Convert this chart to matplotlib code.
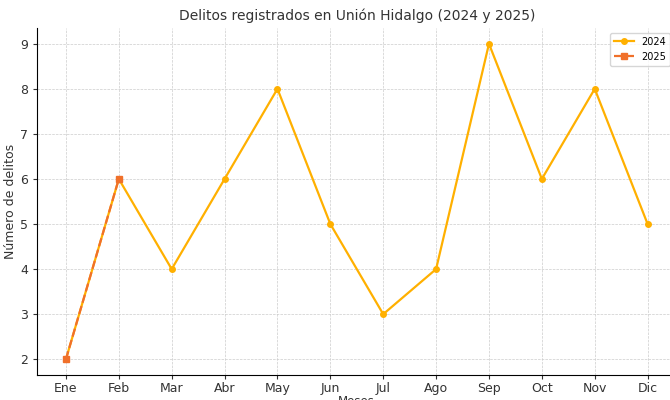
import matplotlib.pyplot as plt

# -----------------
# Data
# -----------------
meses = ['Ene', 'Feb', 'Mar', 'Abr', 'May', 'Jun', 'Jul', 'Ago', 'Sep', 'Oct', 'Nov', 'Dic']
delitos_2024 = [2, 6, 4, 6, 8, 5, 3, 4, 9, 6, 8, 5]
meses_2025 = ['Ene', 'Feb']
delitos_2025 = [2, 6]

# -----------------
# Plot
# -----------------
fig = plt.figure(figsize=(6.7, 4), dpi=100)
ax = fig.add_axes([0.055, 0.0625, 0.955, 0.8675])

x24 = range(len(meses))
x25 = [meses.index(m) for m in meses_2025]

ax.plot(x24, delitos_2024, marker='o', markersize=4, linestyle='-', linewidth=1.6,
        color='#FFB000', label='2024')
ax.plot(x25, delitos_2025, marker='s', markersize=4, linestyle='--', linewidth=1.6,
        color='#F0702A', label='2025')

ax.set_xticks(list(x24))
ax.set_xticklabels(meses)
ax.set_title('Delitos registrados en Unión Hidalgo (2024 y 2025)', fontsize=10, color='#333333')
ax.set_xlabel('Meses', fontsize=8.5, color='#333333', labelpad=0)
ax.set_ylabel('Número de delitos', fontsize=9, color='#333333', labelpad=2)
ax.tick_params(labelsize=9, colors='#333333', length=3)
ax.tick_params(axis='x', pad=2)
ax.grid(True, linestyle='--', linewidth=0.5, color='#cccccc')
ax.spines['top'].set_visible(False)
ax.spines['right'].set_visible(False)

ax.legend(loc='upper right', fontsize=7, bbox_to_anchor=(0.9975, 1.0))

fig.savefig('out.png', dpi=100)
